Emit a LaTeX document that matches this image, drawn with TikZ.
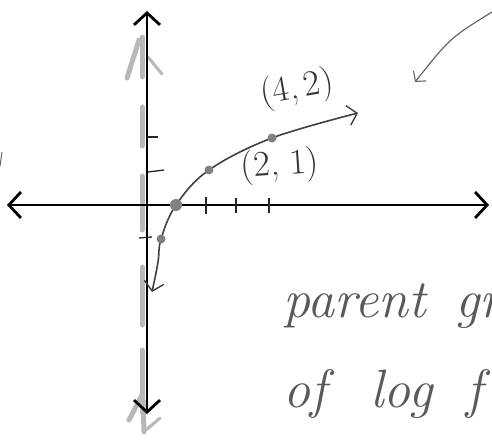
\documentclass[tikz,border=0pt]{standalone}
\usepackage{fontspec}
\usetikzlibrary{arrows.meta}
\begin{document}
\begin{tikzpicture}[x=1pt,y=-1pt,
  axis/.style={line width=2.8pt,black,{Straight Barb[length=12pt,width=26pt,line width=2.8pt]}-{Straight Barb[length=12pt,width=26pt,line width=2.8pt]}},
  ghost/.style={line width=5pt,black!28,line cap=round},
  tickmark/.style={line width=1.3pt,black!85},
  curve/.style={line width=1.6pt,black!75,{Straight Barb[length=9pt,width=20pt,line width=1.4pt]}-{Straight Barb[length=9pt,width=20pt,line width=1.4pt]}},
  dotmark/.style={circle,fill=black!50,inner sep=0pt,minimum size=9pt},
  lbl/.style={text=black!80,font=\fontsize{36}{36}\selectfont},
  hand/.style={text=black!65,font=\fontsize{54}{54}\selectfont\itshape,anchor=base west,inner sep=0pt}]
\useasboundingbox (0,0) rectangle (492,441);
\clip (0,0) rectangle (492,441);

% ghost strokes behind the vertical axis
\draw[ghost] (142,37) -- (142,77);
\draw[ghost] (139,40) -- (127,78);
\draw[ghost,line width=3pt] (148,57) -- (162,74);
\draw[ghost] (142,107) -- (142,146);
\draw[ghost] (142,176) -- (142,230);
\draw[ghost] (142,267) -- (142,325);
\draw[ghost] (142,350) -- (142,412);
\draw[ghost] (142,395) -- (129,420);
\draw[ghost] (143,400) -- (144,432);
\draw[ghost,line width=3pt] (146,430) -- (160,418);

% axes
\coordinate (ytop) at (147,11);
\coordinate (ybot) at (147,414);
\coordinate (xleft) at (7,205);
\coordinate (xright) at (489,205);
\draw[axis] (ybot) -- (ytop);
\draw[axis] (xleft) -- (xright);

% ticks
\draw[tickmark] (147,137) -- (158,137);
\draw[tickmark] (148,172) -- (164,170);
\draw[tickmark] (139,238) -- (152,237);
\draw[tickmark] (206,197) -- (206,214);
\draw[tickmark] (236,198) -- (236,213);
\draw[tickmark] (269,198) -- (269,213);

% curve
\coordinate (cstart) at (152,292);
\coordinate (p0) at (161,239);
\coordinate (p1) at (176,205);
\coordinate (p2) at (209,170);
\coordinate (p3) at (272,138);
\coordinate (cend) at (358,113);
\draw[curve] plot[smooth,tension=0.6] coordinates {(cstart) (158,262) (p0) (p1) (p2) (p3) (cend)};
\node[dotmark] (d0) at (p0) {};
\node[dotmark,minimum size=12pt] (d1) at (p1) {};
\node[dotmark] (d2) at (p2) {};
\node[dotmark] (d3) at (p3) {};

% point labels
\node[lbl,rotate=10] (l42) at (297,89) {(4,\,2)};
\node[lbl,rotate=4] (l21) at (280,166) {(2,\;1)};

% top right arrow
\coordinate (ta) at (492,12);
\coordinate (tb) at (415,82);
\draw[line width=1.2pt,black!60,-{Straight Barb[length=7pt,width=16pt,line width=1.1pt]}] (ta) .. controls (450,38) .. (tb);

% small mark at left edge
\draw[line width=1pt,black!60] (2,152) -- (0,166);

% handwritten caption
\node[hand] (cap1) at (283,317) {parent\hspace{30pt}graph};
\node[hand] (cap2) at (283,407) {of\hspace{44pt}log\hspace{34pt}f};
\end{tikzpicture}
\end{document}
